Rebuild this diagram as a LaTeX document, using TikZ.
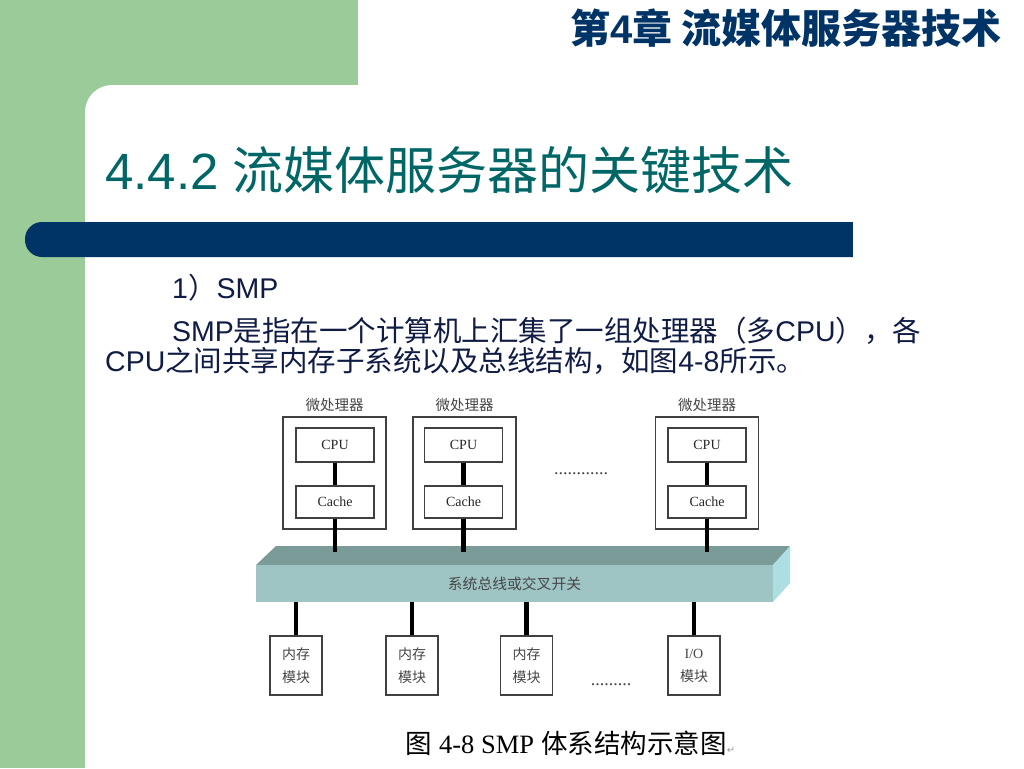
\documentclass[tikz,border=0pt]{standalone}
\usepackage{fontspec}
\setmainfont{Liberation Sans}
\newfontfamily\cjk{Noto Sans CJK SC}
\newfontfamily\serif{Liberation Serif}
\newfontfamily\dejavu{DejaVu Sans}
\definecolor{slgreen}{RGB}{155,203,153}
\definecolor{slnavy}{RGB}{0,51,102}
\definecolor{slteal}{RGB}{0,102,102}
\definecolor{bodytxt}{RGB}{16,28,68}
\definecolor{bustopc}{RGB}{122,155,152}
\definecolor{busfrontc}{RGB}{158,197,196}
\definecolor{bussidec}{RGB}{172,222,226}
\definecolor{dgtxt}{RGB}{70,70,70}
\tikzset{
  box/.style={draw=black!75, line width=1.3pt, fill=white, inner sep=0pt},
  outerbox/.style={box, minimum width=103pt, minimum height=112pt},
  cpubox/.style={box, minimum width=78pt, minimum height=34pt, font=\serif\fontsize{14}{14}\selectfont, text=black!85},
  cachebox/.style={box, minimum width=78pt, minimum height=32pt, font=\serif\fontsize{14}{14}\selectfont, text=black!85},
  modbox/.style={box, minimum width=52pt, minimum height=59pt, align=center, font=\cjk\fontsize{14}{23}\selectfont, text=dgtxt},
  plabel/.style={inner sep=0pt, font=\cjk\fontsize{14.5}{14.5}\selectfont, text=dgtxt},
  conn/.style={line width=4.5pt, black},
  dotsnode/.style={inner sep=0pt, font=\serif\fontsize{18}{18}\selectfont, text=dgtxt},
  bodyline/.style={anchor=base west, inner sep=0pt, text=bodytxt, font=\fontsize{28.5}{28.5}\selectfont}
}
\begin{document}
\begin{tikzpicture}[x=1pt,y=-1pt]
\useasboundingbox (0,0) rectangle (1024,768);
% background
\fill[slgreen] (0,0) rectangle (1024,768);
\fill[white] (358,0) rectangle (1030,90);
\fill[white,rounded corners=27pt] (85,800) -- (85,85) -- (1100,85) -- (1100,800) -- cycle;
% blue bar
\fill[slnavy,rounded corners=17pt] (25,222) rectangle (880,257);
\fill[white] (853,218) rectangle (900,262);
% header and title
\node[anchor=base east, inner sep=0pt, text=slnavy, font=\fontsize{40}{40}\selectfont\bfseries] (header) at (1002,44) {{\cjk\bfseries 第}4{\cjk\bfseries 章 流媒体服务器技术}};
\node[anchor=base west, inner sep=0pt, text=slteal, font=\fontsize{51}{51}\selectfont] (title) at (105,189) {4.4.2 {\cjk 流媒体服务器的关键技术}};
% body text
\node[bodyline] (l1) at (172,298) {1{\cjk ）}SMP};
\node[bodyline] (l2) at (172,341) {SMP{\cjk 是指在一个计算机上汇集了一组处理器（多}CPU{\cjk ），各}};
\node[bodyline] (l3) at (105,371) {CPU{\cjk 之间共享内存子系统以及总线结构，如图}4-8{\cjk 所示。}};
% processors
\node[outerbox] (p1) at (334.5,473) {};
\node[outerbox] (p2) at (464.5,473) {};
\node[outerbox] (p3) at (707,473) {};
\node[plabel] (lab1) at (334.5,405) {微处理器};
\node[plabel] (lab2) at (464.5,405) {微处理器};
\node[plabel] (lab3) at (707,405) {微处理器};
\node[cpubox] (cpu1) at (335,445) {CPU};
\node[cpubox] (cpu2) at (463.5,445) {CPU};
\node[cpubox] (cpu3) at (707,445) {CPU};
\node[cachebox] (cache1) at (335,502) {Cache};
\node[cachebox] (cache2) at (463.5,502) {Cache};
\node[cachebox] (cache3) at (707,502) {Cache};
\node[dotsnode] (dots1) at (581,474) {............};
% bus
\fill[bustopc] (256,565) -- (276,546) -- (790,546) -- (773,565) -- cycle;
\fill[bussidec] (773,565) -- (790,546) -- (790,583) -- (773,602) -- cycle;
\node[fill=busfrontc, inner sep=0pt, minimum width=517pt, minimum height=37pt, font=\cjk\fontsize{14.8}{14.8}\selectfont, text=dgtxt] (bus) at (514.5,583.5) {系统总线或交叉开关};
\coordinate (t1) at (335,552);
\coordinate (t2) at (463.5,552);
\coordinate (t3) at (707,552);
% processor connectors
\draw[conn] (cpu1.south) -- (cache1.north);
\draw[conn] (cpu2.south) -- (cache2.north);
\draw[conn] (cpu3.south) -- (cache3.north);
\draw[conn] (cache1.south) -- (t1);
\draw[conn] (cache2.south) -- (t2);
\draw[conn] (cache3.south) -- (t3);
% modules
\node[modbox] (m1) at (296,665.5) {内存\\模块};
\node[modbox] (m2) at (412,665.5) {内存\\模块};
\node[modbox] (m3) at (526.5,665.5) {内存\\模块};
\node[modbox] (m4) at (694,665.5) {{\serif I/O}\\模块};
\node[dotsnode] (dots2) at (611,685) {.........};
\draw[conn] (bus.south -| m1.north) -- (m1.north);
\draw[conn] (bus.south -| m2.north) -- (m2.north);
\draw[conn] (bus.south -| m3.north) -- (m3.north);
\draw[conn] (bus.south -| m4.north) -- (m4.north);
% caption
\node[anchor=base west, inner sep=0pt, text=black, font=\fontsize{26.5}{26.5}\selectfont] (caption) at (405,753) {{\cjk 图} {\serif 4-8 SMP} {\cjk 体系结构示意图}{\dejavu\fontsize{10}{10}\selectfont\color{black!40}↵}};
\end{tikzpicture}
\end{document}
